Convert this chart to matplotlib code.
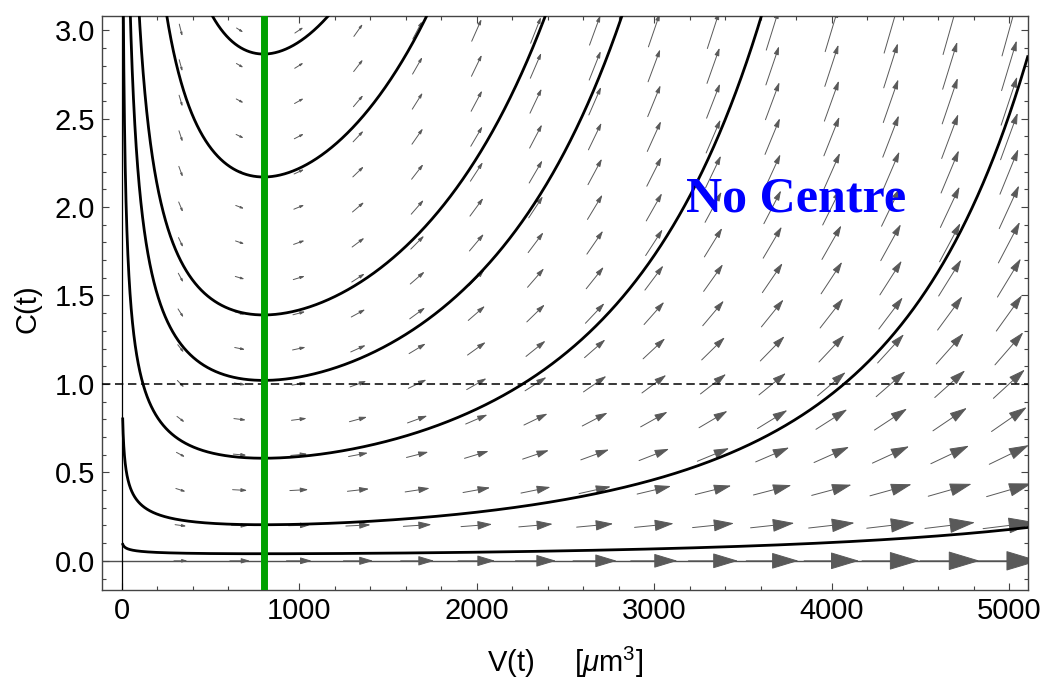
import numpy as np
import matplotlib
matplotlib.use("Agg")
import matplotlib.pyplot as plt
from matplotlib.patches import FancyArrowPatch, ArrowStyle
from matplotlib.ticker import MultipleLocator

plt.rcParams["font.family"] = ["Liberation Sans", "DejaVu Sans"]
plt.rcParams["mathtext.fontset"] = "custom"
plt.rcParams["mathtext.rm"] = "Liberation Sans"
plt.rcParams["mathtext.it"] = "Liberation Sans:italic"

# ── model ──────────────────────────────────────────────────────────────────
V_STAR = 800.0        # green line, dC/dt = 0
C_LINE = 1.0          # dashed reference level
K_RATE = 3.05e-4      # dC/dV = K C^Q (V - V*) V^-P
P_EXP = 0.85
Q_EXP = 1.25
C_DAMP = 2.0          # dV/dt falls off as (1 + C_DAMP C)^-0.8

# trajectory minima on the green line, and where the two low ones start
C_MIN = [0.040, 0.204, 0.58, 1.02, 1.39, 2.17, 2.865]
C_START = [0.10, 0.81, None, None, None, None, None]

# vector field sample points
V_ARROWS = np.linspace(0, 5000, 16)
C_ARROWS = np.linspace(0, 3, 16)

XLIM = (-109, 5106)
YLIM = (-0.165, 3.08)

ARROW_GRAY = "#595959"
FRAME = "#444444"


def dcdv(v, c):
    return K_RATE * c ** Q_EXP * (v - V_STAR) * v ** (-P_EXP)


def growth(v, c):
    return v ** P_EXP * (1 + C_DAMP * c) ** -0.8


def rk4(vs, c0, c_stop):
    cs = [c0]
    for v0, v1 in zip(vs[:-1], vs[1:]):
        h = v1 - v0
        c = cs[-1]
        k1 = dcdv(v0, c)
        k2 = dcdv(v0 + h / 2, c + h * k1 / 2)
        k3 = dcdv(v0 + h / 2, c + h * k2 / 2)
        k4 = dcdv(v1, c + h * k3)
        cn = c + h * (k1 + 2 * k2 + 2 * k3 + k4) / 6
        cs.append(cn)
        if cn >= c_stop:
            break
    return vs[:len(cs)], np.array(cs)


fig = plt.figure(figsize=(10.5, 6.82), dpi=100)
ax = fig.add_axes([0.0974, 0.1349, 0.9790 - 0.0974, 0.9765 - 0.1349])
ax.set_xlim(*XLIM)
ax.set_ylim(*YLIM)

# ── vector field ───────────────────────────────────────────────────────────
x0, y0 = ax.transData.transform((XLIM[0], YLIM[0]))
x1, y1 = ax.transData.transform((XLIM[1], YLIM[1]))
px_v = (x1 - x0) / (XLIM[1] - XLIM[0])
px_c = (y1 - y0) / (YLIM[1] - YLIM[0])

g_ref = growth(V_ARROWS[14], 0.0)
for v in V_ARROWS[1:]:
    for c in C_ARROWS:
        g = growth(v, c)
        slope = dcdv(v, c) * px_c / px_v
        norm = np.hypot(1.0, slope)
        length = min(60 * (g * norm / g_ref) ** 0.66, 60)
        head = max(29 * (g / g_ref) ** 0.85, 2.5)
        dv = 0.5 * length / norm / px_v
        dc = 0.5 * length * slope / norm / px_c
        ax.add_patch(FancyArrowPatch(
            (v - dv, c - dc), (v + dv, c + dc),
            arrowstyle=ArrowStyle("-|>", head_length=1.0, head_width=0.3),
            mutation_scale=head * 0.72, shrinkA=0, shrinkB=0,
            lw=0.7, color=ARROW_GRAY, zorder=2))

# ── axes lines and reference lines ─────────────────────────────────────────
ax.axhline(0, color="#505050", lw=1.0, zorder=1)
ax.axvline(0, color="black", lw=0.9, zorder=3)
ax.axhline(C_LINE, color="black", lw=1.1, ls=(0, (5.5, 3)), zorder=4)

# ── trajectories ───────────────────────────────────────────────────────────
v_left = V_STAR * (0.5 / V_STAR) ** np.linspace(0, 1, 5000)
v_right = np.linspace(V_STAR, XLIM[1] + 5, 3000)
for cmin, cstart in zip(C_MIN, C_START):
    stop = cstart if cstart is not None else 3.3
    vl, cl = rk4(v_left, cmin, stop)
    vr, cr = rk4(v_right, cmin, 3.3)
    vv = np.concatenate([vl[::-1], vr[1:]])
    cc = np.concatenate([cl[::-1], cr[1:]])
    ax.plot(vv, cc, color="black", lw=2.0, zorder=5,
            solid_capstyle="butt")

ax.axvline(V_STAR, color="#00a000", lw=5, zorder=6)

ax.text(3800, 1.976, "No Centre", color="#0000ff", fontsize=36,
        fontweight="bold", family="Liberation Serif",
        ha="center", va="baseline", zorder=7)

# ── frame, ticks, labels ───────────────────────────────────────────────────
ax.xaxis.set_major_locator(MultipleLocator(1000))
ax.xaxis.set_minor_locator(MultipleLocator(200))
ax.yaxis.set_major_locator(MultipleLocator(0.5))
ax.yaxis.set_minor_locator(MultipleLocator(0.1))
ax.yaxis.set_major_formatter(matplotlib.ticker.FormatStrFormatter("%.1f"))
ax.tick_params(which="both", direction="in", top=True, right=True,
               color=FRAME, width=0.8, labelsize=21, pad=5)
ax.tick_params(which="major", length=5)
ax.tick_params(which="minor", length=2.6)
for s in ax.spines.values():
    s.set_color(FRAME)
    s.set_linewidth(1.0)

ax.set_xlabel(r"V(t)     [$\mu$m$^3$]", fontsize=21)
ax.set_ylabel("C(t)", fontsize=21)
ax.xaxis.set_label_coords(0.5, -0.095)
ax.yaxis.set_label_coords(-0.066, 0.49)

fig.savefig("out.png", dpi=100, facecolor="white")
